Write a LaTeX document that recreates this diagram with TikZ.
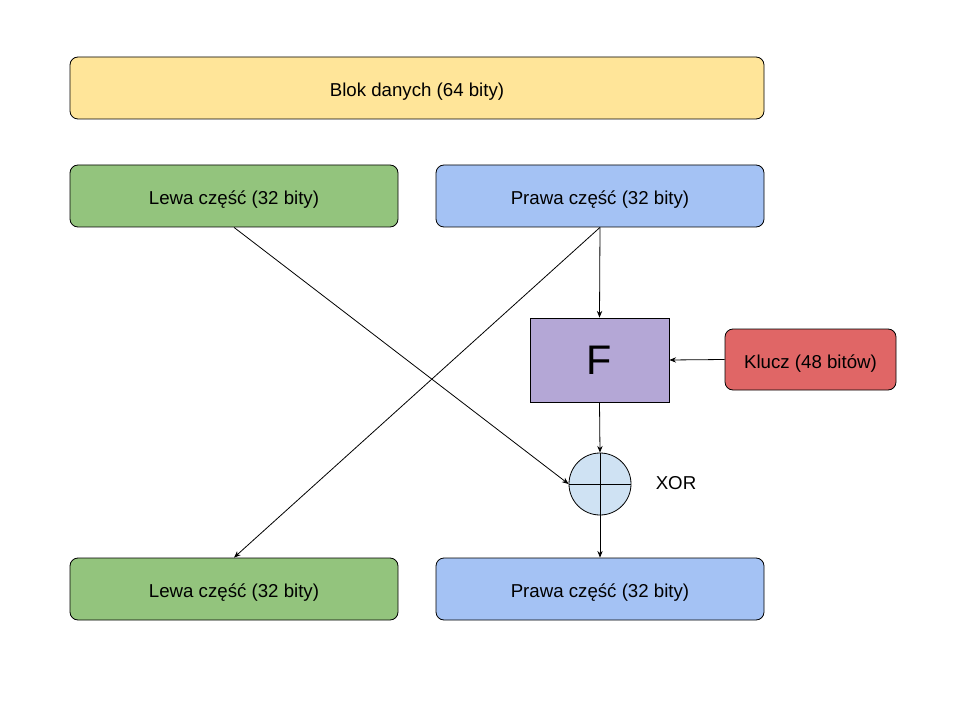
\documentclass[tikz,border=0pt]{standalone}
\usepackage{fontspec}
\setmainfont{Liberation Sans}
\usetikzlibrary{arrows.meta, positioning}
\definecolor{blokyellow}{HTML}{FFE599}
\definecolor{lewagreen}{HTML}{93C47D}
\definecolor{prawablue}{HTML}{A4C2F4}
\definecolor{fpurple}{HTML}{B4A7D6}
\definecolor{kluczred}{HTML}{E06666}
\definecolor{xorblue}{HTML}{CFE2F3}
\tikzset{
   roundbox/.style={
     draw=black, rounded corners=6pt, line width=0.6pt,
     minimum width=246pt, minimum height=46.5pt,
     text height=13pt, text depth=0pt,
     font=\fontsize{14}{17}\selectfont
   },
   blok/.style={
      roundbox,
      fill=blokyellow, minimum width=520.5pt
   },
   lewa/.style={
      roundbox,
      fill=lewagreen
   },
   prawa/.style={
      roundbox,
      fill=prawablue
   },
   klucz/.style={
      roundbox,
      fill=kluczred, minimum width=128.25pt, minimum height=45.75pt
   },
   funkcja/.style={
      draw=black, line width=0.6pt, fill=fpurple,
      minimum width=104.25pt, minimum height=63pt,
      font=\fontsize{31}{37}\selectfont
   },
   xorcircle/.style={
      circle, draw=black, line width=0.6pt, fill=xorblue,
      minimum size=46.5pt, inner sep=0pt
   },
   dataline/.style={-{Stealth[length=5pt, width=4pt]}, line width=0.6pt}
}
\begin{document}
\begin{tikzpicture}[x=0.75pt, y=-0.75pt]
      \useasboundingbox (0,0) rectangle (960,720);

      \node[blok](data) at (417,88) {Blok danych (64 bity)};

      \node[lewa](lewa1) at (234,196) {Lewa część (32 bity)};
      \node[prawa](prawa1) at (600,196) {Prawa część (32 bity)};

      \node[funkcja](f) at (599.5,360) {F};
      \node[klucz](klucz) at (810.5,359.5) {Klucz (48 bitów)};

      \node[xorcircle](xor) at (600,484) {};
      \node[font=\fontsize{14}{17}\selectfont](xorlabel) at (676,483) {XOR};

      \node[lewa](lewa2) at (234,589) {Lewa część (32 bity)};
      \node[prawa](prawa2) at (600,589) {Prawa część (32 bity)};

      \draw[line width=0.6pt] (xor.north) -- (xor.south);
      \draw[line width=0.6pt] (xor.west) -- (xor.east);

      \draw[dataline] (lewa1.south) -- (xor.west);
      \draw[dataline] (prawa1.south) -- (lewa2.north);
      \draw[dataline] (prawa1.south) -- (f.north);
      \draw[dataline] (klucz.west) -- (f.east);
      \draw[dataline] (f.south) -- (xor.north);
      \draw[dataline] (xor.south) -- (prawa2.north);
   \end{tikzpicture}
\end{document}
